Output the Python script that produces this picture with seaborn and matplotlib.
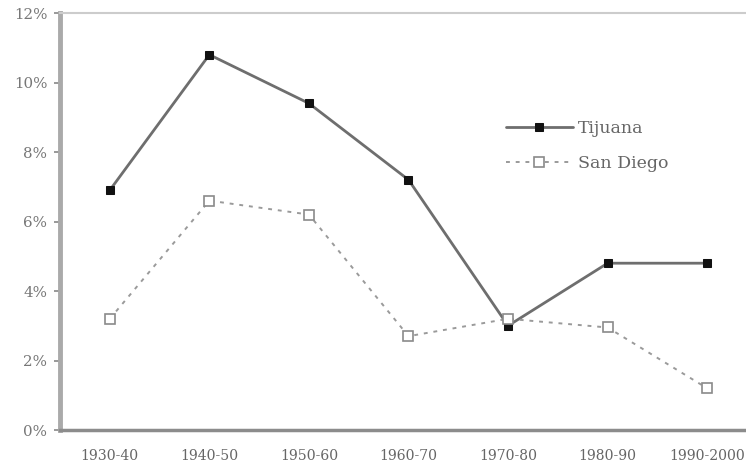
import matplotlib
matplotlib.use("Agg")
import matplotlib.pyplot as plt
import numpy as np
import pandas as pd
import seaborn as sns

# decenni e tassi di crescita (%)
periodi = ["1930-40", "1940-50", "1950-60", "1960-70", "1970-80", "1980-90", "1990-2000"]
tijuana = [6.9, 10.8, 9.4, 7.2, 3.0, 4.8, 4.8]
san_diego = [3.2, 6.6, 6.2, 2.7, 3.2, 2.95, 1.2]
y_ticks = [0, 2, 4, 6, 8, 10, 12]

sns.set_style("white")
plt.rcParams["font.family"] = ["DejaVu Serif", "Liberation Serif"]

df = pd.DataFrame({"pos": np.arange(len(periodi)), "Tijuana": tijuana, "San Diego": san_diego})

fig = plt.figure(figsize=(7.46, 4.69), dpi=100)
# l'asse x continua oltre il bordo destro dell'immagine (come nel riferimento)
ax = fig.add_axes([60 / 746, 39 / 469, 697 / 746, 417 / 469])

sns.lineplot(data=df, x="pos", y="Tijuana", ax=ax, color="#6e6e6e", linewidth=2,
             marker="s", markersize=6, markerfacecolor="#111111", markeredgecolor="#111111",
             label="Tijuana")
sns.lineplot(data=df, x="pos", y="San Diego", ax=ax, color="#9a9a9a", linewidth=1.4,
             linestyle=(0, (2, 3)), marker="s", markersize=7, markerfacecolor="white",
             markeredgecolor="#8a8a8a", markeredgewidth=1.2, label="San Diego")

ax.set_xlim(-0.5, len(periodi) - 0.5)
ax.set_ylim(0, 12)
ax.set_yticks(y_ticks)
ax.set_yticklabels([f"{v}%" for v in y_ticks])
ax.set_xticks(np.arange(len(periodi)))
ax.set_xticklabels(periodi)
ax.set_xticks(np.arange(len(periodi) + 1) - 0.5, minor=True)
ax.set_xlabel("")
ax.set_ylabel("")

ax.tick_params(axis="x", which="major", length=0, pad=14, labelsize=10.1, labelcolor="#666666")
ax.tick_params(axis="x", which="minor", length=4, width=1, color="#bbbbbb", direction="out")
ax.tick_params(axis="y", length=4, width=1.2, color="#888888", direction="out", pad=5,
               labelsize=10.8, labelcolor="#777777", left=True)

ax.spines["left"].set_color("#aaaaaa")
ax.spines["left"].set_linewidth(3.5)
ax.spines["bottom"].set_color("#8c8c8c")
ax.spines["bottom"].set_linewidth(2.5)
ax.spines["top"].set_color("#cccccc")
ax.spines["top"].set_linewidth(1.5)
ax.spines["right"].set_visible(False)

leg = ax.legend(loc="upper left", bbox_to_anchor=(0.617, 0.78), frameon=False,
                fontsize=12.5, handlelength=3.85, handletextpad=0.3, labelspacing=1.0)
for t in leg.get_texts():
    t.set_color("#666666")

fig.savefig("out.png", dpi=100)
